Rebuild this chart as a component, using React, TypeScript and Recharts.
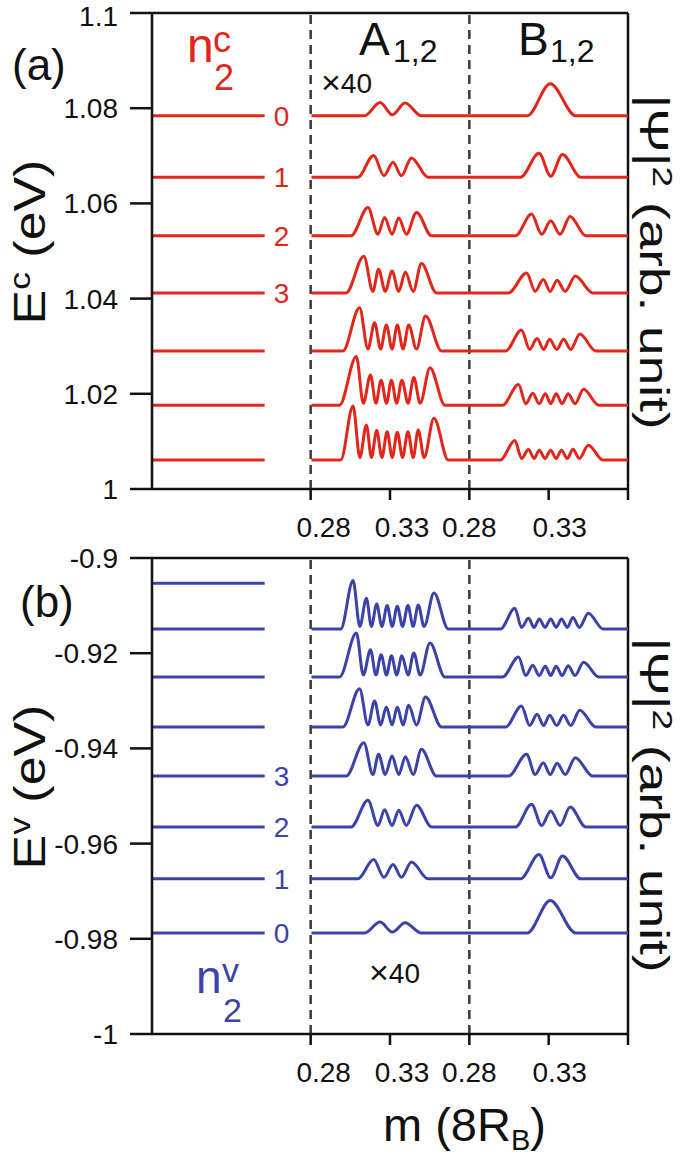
import { LineChart, Line, XAxis, YAxis, ReferenceLine } from "recharts";

// axis ticks (internal x axis: 0.18-0.28 level column, 0.28-0.38 A site, 0.38-0.48 B site)
const X_TICKS = [0.28, 0.33, 0.38, 0.43, 0.48];
const X_TICK_LABELS = ["0.28", "0.33", "0.28", "0.33", ""];
const X_TICK_NUDGE = [13, 12, 0, 11, 0];
const EC_TICKS = [1, 1.02, 1.04, 1.06, 1.08, 1.1];
const EC_TICK_LABELS = ["1", "1.02", "1.04", "1.06", "1.08", "1.1"];
const EV_TICKS = [-1, -0.98, -0.96, -0.94, -0.92, -0.9];
const EV_TICK_LABELS = ["-1", "-0.98", "-0.96", "-0.94", "-0.92", "-0.9"];

// subband energies (eV), n2 = 0, 1, 2 ...
const EC_LEVELS = [1.0784, 1.0655, 1.0532, 1.0412, 1.029, 1.0176, 1.0061];
const EV_LEVELS = [-0.9788, -0.9674, -0.9565, -0.9458, -0.9355, -0.925, -0.9149, -0.9053];
const LEVEL_LABELS = ["0", "1", "2", "3"];

// |Psi|^2 on A sites: m (8R_B) of feet, peaks and dips, per n2
const A_M = [
  [0.314, 0.3237, 0.3315, 0.3395, 0.3498],
  [0.3097, 0.3197, 0.3262, 0.3319, 0.3372, 0.3435, 0.354],
  [0.3055, 0.3161, 0.3224, 0.3266, 0.3313, 0.3355, 0.3403, 0.3467, 0.3562],
  [0.3024, 0.3135, 0.3192, 0.3228, 0.327, 0.3313, 0.3355, 0.3397, 0.3446, 0.3498, 0.3593],
  [0.3003, 0.3108, 0.3161, 0.3203, 0.3241, 0.3277, 0.3313, 0.3346, 0.3382, 0.3418, 0.3467, 0.3524, 0.3625],
  [0.2982, 0.3088, 0.3132, 0.3177, 0.3211, 0.3244, 0.3278, 0.3309, 0.3342, 0.3375, 0.3414, 0.345, 0.349, 0.3552, 0.3646],
  [0.299, 0.3067, 0.311, 0.3151, 0.3183, 0.3216, 0.3249, 0.3282, 0.3314, 0.3346, 0.3379, 0.3413, 0.3446, 0.3478, 0.3515, 0.3577, 0.3667],
];
// heights (arb. unit, x40) for conduction and valence states
const A_HC = [
  [0, 13.3, 1, 12.7, 0],
  [0, 21.7, 1.5, 15, 1.5, 19.3, 0],
  [0, 28.3, 1.5, 18.3, 1.5, 17.7, 1.5, 23.3, 0],
  [0, 36.7, 1.5, 23.7, 1.5, 22, 1.5, 21, 1.5, 29.3, 0],
  [0, 43.3, 2, 28.3, 2, 26, 2, 26, 2, 26, 2, 35, 0],
  [0, 48.6, 2, 30.3, 2, 25, 2, 25, 2, 25, 2, 27.8, 2, 37.5, 0],
  [0, 54, 2.5, 35, 2.5, 29.5, 2.5, 28.3, 2.5, 27.8, 2.5, 28.3, 2.5, 30, 2.5, 41.7, 0],
];
const A_HV = [
  [0, 11, 1, 10.3, 0],
  [0, 19.3, 1.5, 14.3, 1.5, 16.7, 0],
  [0, 26.7, 1.5, 17.3, 1.5, 16.7, 1.5, 21.7, 0],
  [0, 33.3, 1.5, 21.7, 1.5, 20, 1.5, 19.3, 1.5, 26.7, 0],
  [0, 38.3, 2, 26, 2, 20, 2, 20, 2, 21.7, 2, 30, 0],
  [0, 44, 2, 27.3, 2, 22.3, 2, 21.3, 2, 21.3, 2, 24, 2, 34, 0],
  [0, 48.3, 2.5, 30.7, 2.5, 25, 2.5, 23.3, 2.5, 22.7, 2.5, 23.3, 2.5, 24, 2.5, 36, 0],
];

// |Psi|^2 on B sites
const B_M = [
  [0.3165, 0.331, 0.3471],
  [0.3123, 0.3239, 0.3313, 0.3387, 0.3503],
  [0.3091, 0.3192, 0.3256, 0.3313, 0.3372, 0.3435, 0.3534],
  [0.3047, 0.3161, 0.3215, 0.3266, 0.331, 0.3353, 0.3404, 0.3468, 0.3577],
  [0.3028, 0.3129, 0.318, 0.3227, 0.3268, 0.3306, 0.3351, 0.3394, 0.3439, 0.3496, 0.3597],
  [0.3009, 0.311, 0.3156, 0.32, 0.324, 0.3279, 0.3313, 0.3347, 0.3385, 0.3423, 0.3466, 0.352, 0.3616],
  [0.2996, 0.3087, 0.3129, 0.3173, 0.3208, 0.3241, 0.3277, 0.3313, 0.3347, 0.3381, 0.3417, 0.3453, 0.3493, 0.355, 0.3642],
];
const B_HC = [
  [0, 32, 0],
  [0, 24, 1, 22.7, 0],
  [0, 21.7, 1.5, 15, 1.5, 19.3, 0],
  [0, 20, 1.5, 13.3, 1.5, 12.7, 1.5, 17, 0],
  [0, 21, 1.5, 12.5, 1.5, 11.7, 1.5, 11.7, 1.5, 17, 0],
  [0, 20.7, 1.5, 12, 1.5, 11.5, 1.5, 11.5, 1.5, 11.5, 1.5, 16, 0],
  [0, 19.5, 1.5, 10.5, 1.5, 9.7, 1.5, 9.7, 1.5, 9.7, 1.5, 10.7, 1.5, 14.8, 0],
];
const B_HV = [
  [0, 32.7, 0],
  [0, 24.3, 1, 22.7, 0],
  [0, 22.7, 1.5, 16, 1.5, 20, 0],
  [0, 21.7, 1.5, 13.3, 1.5, 12.7, 1.5, 18.3, 0],
  [0, 21, 1.5, 12.7, 1.5, 11.7, 1.5, 11.7, 1.5, 16.7, 0],
  [0, 20, 1.5, 11.7, 1.5, 10.7, 1.5, 10.7, 1.5, 11.3, 1.5, 14.7, 0],
  [0, 20.7, 1.5, 10.7, 1.5, 10, 1.5, 10, 1.5, 10, 1.5, 11.3, 1.5, 15.7, 0],
];

const X_MIN = 0.18;
const X_MAX = 0.48;
const A_START = 0.2805;
const B_SHIFT = 0.1;
const LEVEL_END = 0.251;
const PSI_SCALE = 0.1 / 476; // eV per arb. unit on screen

const RED = "#e1261c";
const BLUE = "#3c43a6";
const INK = "#111";
const FONT = "'Liberation Sans', Arial, Helvetica, sans-serif";

function waveRows(level: number, aM: number[], aH: number[], bM: number[], bH: number[]) {
  const rows = [{ x: A_START, y: level }];
  aM.forEach((m, i) => rows.push({ x: m, y: level + aH[i] * PSI_SCALE }));
  bM.forEach((m, i) => rows.push({ x: m + B_SHIFT, y: level + bH[i] * PSI_SCALE }));
  rows.push({ x: X_MAX, y: level });
  return rows;
}

function XTick(props: any) {
  const { x, y, index } = props;
  return (
    <text x={x + X_TICK_NUDGE[index]} y={y + 37} textAnchor="middle" fontSize={28} fill={INK} fontFamily={FONT}>
      {X_TICK_LABELS[index]}
    </text>
  );
}

function YTick(props: any) {
  const { x, y, payload, labels, ticks } = props;
  // keep the top label inside the page
  const yy = Math.max(y, 16);
  return (
    <text x={x} y={yy} dy="0.355em" textAnchor="end" fontSize={28} fill={INK} fontFamily={FONT}>
      {labels[ticks.indexOf(payload.value)] ?? String(payload.value)}
    </text>
  );
}

type PanelProps = {
  levels: number[];
  ticks: number[];
  tickLabels: string[];
  color: string;
  aH: number[][];
  bH: number[][];
  top: number;
};

function Panel({ levels, ticks, tickLabels, color, aH, bH, top }: PanelProps) {
  const lo = ticks[0];
  const hi = ticks[ticks.length - 1];
  return (
    <LineChart width={685} height={top + 547} margin={{ top, right: 57, bottom: 41, left: 0 }}>
      <XAxis
        type="number"
        dataKey="x"
        domain={[X_MIN, X_MAX]}
        allowDataOverflow
        ticks={X_TICKS}
        interval={0}
        height={30}
        tickSize={11}
        tickMargin={0}
        tick={<XTick />}
        axisLine={{ stroke: INK, strokeWidth: 2.5 }}
        tickLine={{ stroke: INK, strokeWidth: 2.5 }}
      />
      <YAxis
        type="number"
        dataKey="y"
        domain={[lo, hi]}
        allowDataOverflow
        ticks={ticks}
        interval={0}
        width={152}
        tickSize={22}
        tickMargin={12}
        tick={<YTick labels={tickLabels} ticks={ticks} />}
        axisLine={{ stroke: INK, strokeWidth: 2.5 }}
        tickLine={{ stroke: INK, strokeWidth: 2.5 }}
      />
      <ReferenceLine y={hi} stroke={INK} strokeWidth={2.5} />
      <ReferenceLine x={X_MAX} stroke={INK} strokeWidth={2.5} />
      <ReferenceLine x={0.28} stroke="#3a3a3a" strokeWidth={2.5} strokeDasharray="9 6" />
      <ReferenceLine x={0.38} stroke="#3a3a3a" strokeWidth={2.5} strokeDasharray="9 6" />
      {levels.map((e, n) => (
        <Line
          key={"lvl" + n}
          data={[{ x: X_MIN, y: e }, { x: LEVEL_END, y: e }]}
          dataKey="y"
          stroke={color}
          strokeWidth={3}
          dot={false}
          activeDot={false}
          isAnimationActive={false}
          label={(p: any) =>
            p.index === 1 && n < LEVEL_LABELS.length ? (
              <text
                key={"lab" + n}
                x={p.x + 17}
                y={p.y + 10}
                textAnchor="middle"
                fontSize={28}
                fill={color}
                fontFamily={FONT}
              >
                {LEVEL_LABELS[n]}
              </text>
            ) : (
              <g key={"nolab" + n + "-" + p.index} />
            )
          }
        />
      ))}
      {aH.map((h, n) => (
        <Line
          key={"psi" + n}
          type="monotone"
          data={waveRows(levels[n], A_M[n], h, B_M[n], bH[n])}
          dataKey="y"
          stroke={color}
          strokeWidth={3}
          dot={false}
          activeDot={false}
          isAnimationActive={false}
        />
      ))}
    </LineChart>
  );
}

export default function App() {
  return (
    <div style={{ position: "absolute", left: 0, top: 0, width: 685, height: 1158, background: "#fff", fontFamily: FONT }}>
      <div style={{ position: "absolute", left: 0, top: 0 }}>
        <Panel levels={EC_LEVELS} ticks={EC_TICKS} tickLabels={EC_TICK_LABELS} color={RED} aH={A_HC} bH={B_HC} top={13} />
      </div>
      <div style={{ position: "absolute", left: 0, top: 500 }}>
        <Panel levels={EV_LEVELS} ticks={EV_TICKS} tickLabels={EV_TICK_LABELS} color={BLUE} aH={A_HV} bH={B_HV} top={58} />
      </div>
      <svg width={685} height={1158} style={{ position: "absolute", left: 0, top: 0, pointerEvents: "none" }} fontFamily={FONT}>
        {/* panel (a) */}
        <text x={12} y={80} fontSize={44} fill={INK}>(a)</text>
        <text x={187} y={62} fontSize={48} fill={RED}>n</text>
        <text x={213} y={52} fontSize={36} fill={RED}>c</text>
        <text x={214} y={90} fontSize={36} fill={RED}>2</text>
        <text x={359} y={55} fontSize={46} fill={INK}>A</text>
        <text x={393} y={62} fontSize={32} fill={INK}>1,2</text>
        <text x={518} y={55} fontSize={46} fill={INK}>B</text>
        <text x={550} y={62} fontSize={32} fill={INK}>1,2</text>
        <text x={321} y={93} fontSize={28} fill={INK}>
          <tspan fontSize={34} dy={1}>×</tspan><tspan dy={-1}>40</tspan>
        </text>
        <text transform="translate(45,242) rotate(-90) scale(1.18,1)" textAnchor="middle" fontSize={44} fill={INK}>
          E<tspan dy={-15} fontSize={30}>c</tspan><tspan dy={15}> (eV)</tspan>
        </text>
        <text transform="translate(640,262) rotate(90) scale(1.33,1)" textAnchor="middle" fontSize={40} fill={INK}>
          |Ψ|<tspan dy={-13} fontSize={28}>2</tspan><tspan dy={13}> (arb. unit)</tspan>
        </text>

        {/* panel (b) */}
        <text x={20} y={617} fontSize={44} fill={INK}>(b)</text>
        <text x={196} y={993} fontSize={46} fill={BLUE}>n</text>
        <text x={222} y={982} fontSize={34} fill={BLUE}>v</text>
        <text x={223} y={1022} fontSize={34} fill={BLUE}>2</text>
        <text x={369} y={983} fontSize={28} fill={INK}>
          <tspan fontSize={34} dy={1}>×</tspan><tspan dy={-1}>40</tspan>
        </text>
        <text transform="translate(45,787) rotate(-90) scale(1.18,1)" textAnchor="middle" fontSize={44} fill={INK}>
          E<tspan dy={-15} fontSize={30}>v</tspan><tspan dy={15}> (eV)</tspan>
        </text>
        <text transform="translate(640,805) rotate(90) scale(1.33,1)" textAnchor="middle" fontSize={40} fill={INK}>
          |Ψ|<tspan dy={-13} fontSize={28}>2</tspan><tspan dy={13}> (arb. unit)</tspan>
        </text>
        <text x={383} y={1141} fontSize={47} fill={INK}>
          m (8R<tspan dy={9} fontSize={29}>B</tspan><tspan dy={-9}>)</tspan>
        </text>
      </svg>
    </div>
  );
}
